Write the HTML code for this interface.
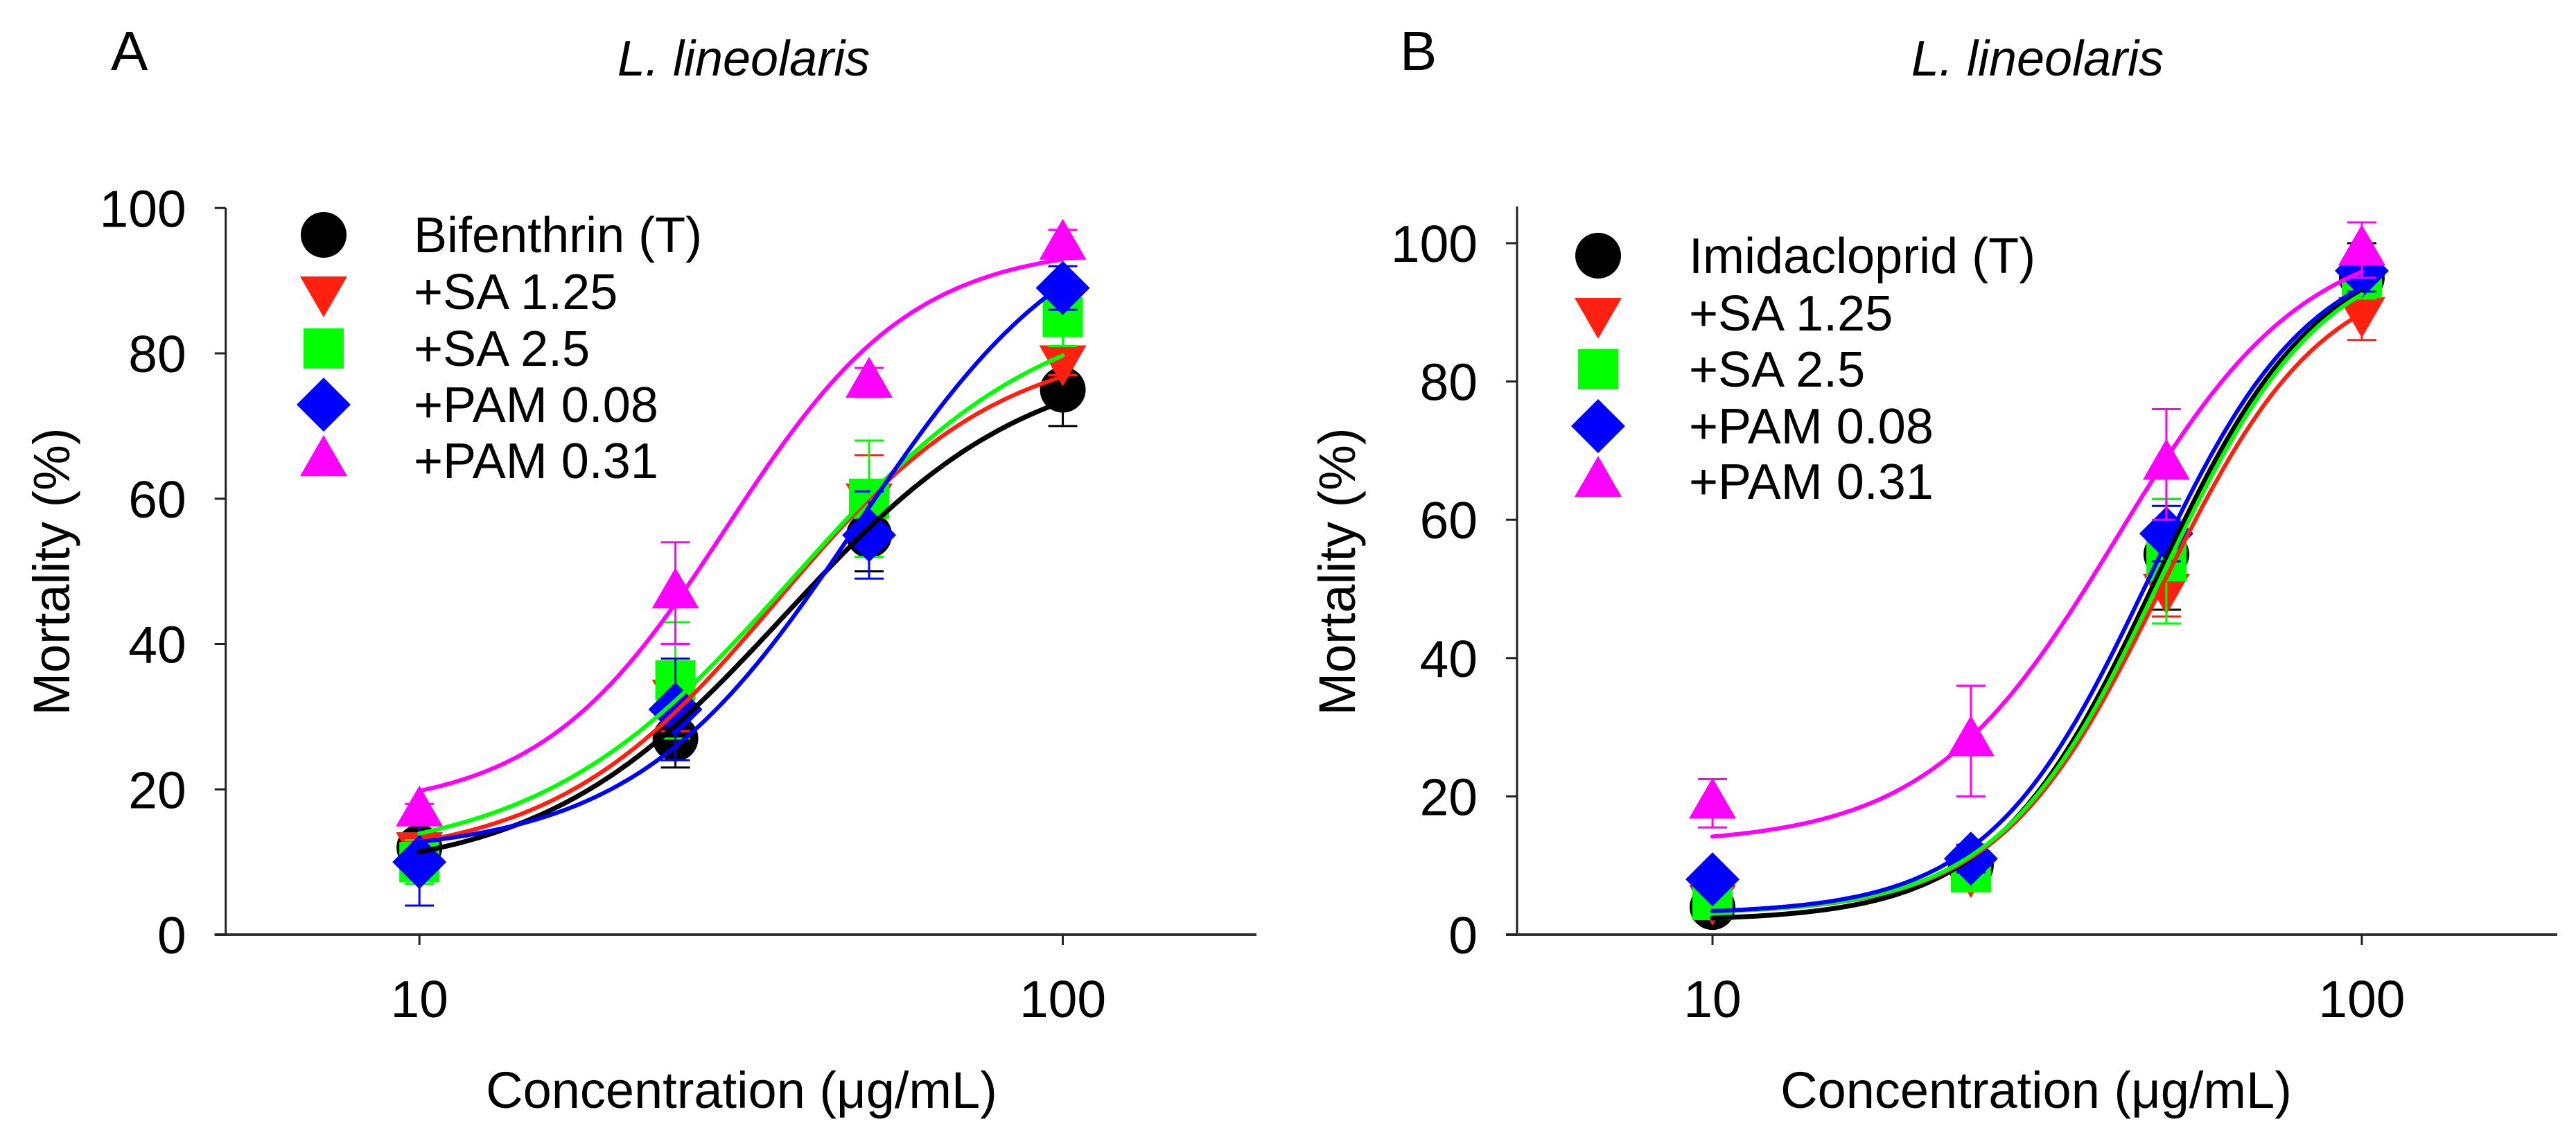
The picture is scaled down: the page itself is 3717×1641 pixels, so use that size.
<!DOCTYPE html>
<html><head><meta charset="utf-8">
<style>
html,body{margin:0;padding:0;background:#fff;}
svg{display:block;}
text{font-family:"Liberation Sans",Arial,sans-serif;fill:#000;}
</style></head>
<body>
<svg id="fig" width="3717" height="1641" viewBox="0 0 3717 1641" xmlns="http://www.w3.org/2000/svg">
<rect width="3717" height="1641" fill="#fff"/>
</svg>
<script>
// ---------- data ----------
const concentrations = [10, 25, 50, 100];
const seriesNamesA = ["Bifenthrin (T)", "+SA 1.25", "+SA 2.5", "+PAM 0.08", "+PAM 0.31"];
const seriesNamesB = ["Imidacloprid (T)", "+SA 1.25", "+SA 2.5", "+PAM 0.08", "+PAM 0.31"];
const colors = ["#000000", "#ff2010", "#00ff00", "#0000ff", "#ff00ff"];
const shapes = ["circle", "tdown", "square", "diamond", "tup"];

// Panel A mean mortality
const aBlack = [12, 27, 55, 75];
const aRed = [12, 33, 60, 79];
const aGreen = [10, 35, 60, 85];
const aBlue = [10, 31, 55, 89];
const aMagenta = [17, 47, 76, 95];
// Panel A error (SE)
const aBlackErr = [2, 4, 5, 5];
const aRedErr = [1, 5, 6, 2];
const aGreenErr = [3, 8, 8, 4];
const aBlueErr = [6, 7, 6, 3];
const aMagentaErr = [1, 7, 2, 2];
// Panel A fitted logistic params [bottom, top, ec50, hill]
const aBlackFit = [8, 80, 37, 2.3];
const aRedFit = [10, 82, 36, 2.5];
const aGreenFit = [10, 88, 38, 2.2];
const aBlueFit = [11, 102, 48, 2.5];
const aMagentaFit = [17, 95, 30, 3];

// Panel B mean mortality
const bBlack = [4, 10, 55, 95];
const bRed = [5, 9, 50, 90];
const bGreen = [5, 9, 54, 95];
const bBlue = [8, 11, 58, 96];
const bMagenta = [19, 28, 68, 99];
const bBlackErr = [1, 3, 8, 5];
const bRedErr = [1, 2, 4, 4];
const bGreenErr = [1, 2, 9, 3];
const bBlueErr = [1, 2, 4, 3];
const bMagentaErr = [3.5, 8, 8, 4];
const bBlackFit = [2, 100, 48, 3.5];
const bRedFit = [3, 97, 49, 3.5];
const bGreenFit = [3, 100, 49, 3.5];
const bBlueFit = [3, 100, 47, 3.5];
const bMagentaFit = [13, 102, 42, 3];

const yTicksA = [0, 20, 40, 60, 80, 100];
const yTicksB = [0, 20, 40, 60, 80, 100];
const xTicks = [10, 100];

// ---------- drawing ----------
const NS = "http://www.w3.org/2000/svg";
const svg = document.getElementById("fig");
function mk(tag, attrs, parent) {
  const e = document.createElementNS(NS, tag);
  for (const k in attrs) e.setAttribute(k, attrs[k]);
  (parent || svg).appendChild(e);
  return e;
}
function logistic(p, x) { return p[0] + (p[1] - p[0]) / (1 + Math.pow(p[2] / x, p[3])); }

function marker(g, shape, cx, cy, color) {
  let e;
  if (shape === "circle") e = mk("circle", {cx: cx, cy: cy, r: 33, fill: color}, g);
  else if (shape === "square") e = mk("rect", {x: cx - 29, y: cy - 29, width: 58, height: 58, fill: color}, g);
  else if (shape === "diamond") e = mk("polygon", {points: `${cx},${cy-39} ${cx+39},${cy} ${cx},${cy+39} ${cx-39},${cy}`, fill: color}, g);
  else if (shape === "tdown") e = mk("polygon", {points: `${cx-34},${cy-22} ${cx+34},${cy-22} ${cx},${cy+37}`, fill: color}, g);
  else e = mk("polygon", {points: `${cx-34},${cy+22} ${cx+34},${cy+22} ${cx},${cy-37}`, fill: color}, g);
  return e;
}

function panel(cfg) {
  const g = mk("g", {});
  
  
  const xs = v => cfg.x0 + (Math.log10(v) - Math.log10(5)) / Math.log10(40) * (cfg.x1 - cfg.x0);
  const ys = v => cfg.y0 - v * cfg.ppu;

  const yAx = mk("line", {x1: cfg.x0, y1: cfg.yTop, x2: cfg.x0, y2: cfg.y0, stroke: "#222", "stroke-width": 3}, g);
  
  
  const xAx = mk("line", {x1: cfg.x0 - 16, y1: cfg.y0, x2: cfg.x1, y2: cfg.y0, stroke: "#333", "stroke-width": 4}, g);
  
  

  cfg.yTicks.forEach(t => {
    mk("line", {x1: cfg.x0 - 16, y1: ys(t), x2: cfg.x0, y2: ys(t), stroke: "#222", "stroke-width": 3}, g);
    const tl = mk("text", {x: cfg.x0 - 57, y: ys(t) + 27, "font-size": 75, "text-anchor": "end"}, g);
    tl.textContent = t;
    
    
  });
  xTicks.forEach(t => {
    mk("line", {x1: xs(t), y1: cfg.y0, x2: xs(t), y2: cfg.y0 + 15, stroke: "#222", "stroke-width": 3}, g);
    const tl = mk("text", {x: xs(t), y: 1468, "font-size": 75, "text-anchor": "middle"}, g);
    tl.textContent = t;
    
    
  });

  const pl = mk("text", {x: cfg.letterX, y: 101, "font-size": 80}, g);
  pl.textContent = cfg.letter;
  
  
  const tt = mk("text", {x: cfg.titleX, y: 109, "font-size": 72, "font-style": "italic", "text-anchor": "middle"}, g);
  tt.textContent = "L. lineolaris";
  
  
  const xt = mk("text", {x: cfg.xTitleX, y: 1599, "font-size": 74, "text-anchor": "middle"}, g);
  xt.textContent = "Concentration (\u03bcg/mL)";
  
  
  const yt = mk("text", {x: 0, y: 0, "font-size": 74, "text-anchor": "middle", transform: `translate(${cfg.yTitleX},825) rotate(-90)`}, g);
  yt.textContent = "Mortality (%)";
  
  

  cfg.series.forEach((s, i) => {
    const sg = mk("g", {}, g);
    
    
    concentrations.forEach((c, j) => {
      const cx = xs(c), v = s.vals[j], e = s.err[j];
      mk("line", {x1: cx, y1: ys(v - e), x2: cx, y2: ys(v + e), stroke: colors[i], "stroke-width": 3}, sg);
      mk("line", {x1: cx - 21, y1: ys(v + e), x2: cx + 21, y2: ys(v + e), stroke: colors[i], "stroke-width": 3}, sg);
      mk("line", {x1: cx - 21, y1: ys(v - e), x2: cx + 21, y2: ys(v - e), stroke: colors[i], "stroke-width": 3}, sg);
      const m = marker(sg, shapes[i], cx, ys(v), colors[i]);
      
      
    });
  });
  cfg.series.forEach((s, i) => {
    let d = "";
    for (let k = 0; k <= 120; k++) {
      const lx = 1 + k / 120;
      const x = Math.pow(10, lx);
      d += (k ? "L" : "M") + xs(x).toFixed(1) + "," + ys(logistic(s.fit, x)).toFixed(1);
    }
    const p = mk("path", {d: d, fill: "none", stroke: colors[i], "stroke-width": i === 0 ? 7 : 6, "stroke-linecap": "round"}, g);
    
    
  });

  const lg = mk("g", {}, g);
  
  
  cfg.names.forEach((n, i) => {
    const ry = cfg.legRows[i];
    const ent = mk("g", {}, lg);
    
    
    marker(ent, shapes[i], cfg.legX, ry, colors[i]);
    const t = mk("text", {x: cfg.legTextX, y: ry + 25, "font-size": 72}, ent);
    t.textContent = n;
  });
}

panel({
  name: "panel-a", letter: "A", letterX: 160, titleX: 1073, xTitleX: 1070, yTitleX: 100,
  x0: 325.7, x1: 1813, y0: 1349, ppu: 10.487, yTop: 300, yTicks: yTicksA, names: seriesNamesA,
  legX: 467, legTextX: 597, legRows: [339, 421, 503, 584, 665],
  series: [
    {vals: aBlack, err: aBlackErr, fit: aBlackFit},
    {vals: aRed, err: aRedErr, fit: aRedFit},
    {vals: aGreen, err: aGreenErr, fit: aGreenFit},
    {vals: aBlue, err: aBlueErr, fit: aBlueFit},
    {vals: aMagenta, err: aMagentaErr, fit: aMagentaFit}
  ]
});
panel({
  name: "panel-b", letter: "B", letterX: 2020, titleX: 2940, xTitleX: 2938, yTitleX: 1955,
  x0: 2189, x1: 3690, y0: 1349, ppu: 9.98, yTop: 298, yTicks: yTicksB, names: seriesNamesB,
  legX: 2306, legTextX: 2437, legRows: [369, 452, 533, 615, 695],
  series: [
    {vals: bBlack, err: bBlackErr, fit: bBlackFit},
    {vals: bRed, err: bRedErr, fit: bRedFit},
    {vals: bGreen, err: bGreenErr, fit: bGreenFit},
    {vals: bBlue, err: bBlueErr, fit: bBlueFit},
    {vals: bMagenta, err: bMagentaErr, fit: bMagentaFit}
  ]
});
</script>
</body></html>
